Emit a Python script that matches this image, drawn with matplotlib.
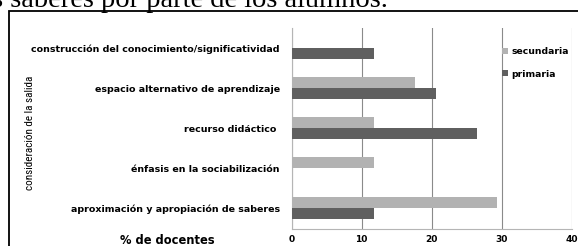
import matplotlib
matplotlib.use('Agg')
import matplotlib.pyplot as plt
from matplotlib.patches import Rectangle
import numpy as np

# datos (de abajo hacia arriba)
categorias = ['aproximación y apropiación de saberes',
              'énfasis en la sociabilización',
              'recurso didáctico ',
              'espacio alternativo de aprendizaje',
              'construcción del conocimiento/significatividad']
secundaria = [29.4, 11.8, 11.8, 17.6, 0]
primaria = [11.8, 0, 26.5, 20.6, 11.8]
ticks_x = [0, 10, 20, 30, 40]

W, H = 578, 246
fig = plt.figure(figsize=(W / 100, H / 100), dpi=100)
fig.patch.set_facecolor('white')

# texto del documento cortado arriba
fig.text(388 / W, 1 - 7 / H, 'de los saberes por parte de los alumnos.',
         ha='right', va='baseline', fontsize=20.5, family='Liberation Serif',
         color='black')

# marco del grafico
fig.patches.append(Rectangle((8.5 / W, -0.2), 1.2, 1.2 - 11 / H,
                             transform=fig.transFigure, fill=False,
                             edgecolor='black', lw=1.3))

ax = fig.add_axes([291.5 / W, 1 - 228.5 / H, 280 / W, 200.5 / H])
y = np.arange(len(categorias))
h = 0.275
ax.barh(y + h / 2, secundaria, height=h, color='#b2b2b2', label='secundaria', zorder=3)
ax.barh(y - h / 2, primaria, height=h, color='#5f5f5f', label='primaria', zorder=3)

ax.set_xlim(0, 40)
ax.set_ylim(-0.5, 4.5)
ax.set_xticks(ticks_x)
ax.set_xticklabels([str(t) for t in ticks_x], fontsize=6.5, fontweight='bold')
ax.set_yticks(y)
ax.set_yticklabels(categorias, fontsize=6.8, fontweight='bold')
ax.tick_params(axis='both', length=0, pad=8.5)
ax.tick_params(axis='x', pad=5)
ax.grid(axis='x', color='#8a8a8a', lw=0.8, zorder=1)
for s in ['top', 'right']:
    ax.spines[s].set_visible(False)
for s in ['left', 'bottom']:
    ax.spines[s].set_color('#b5b5b5')
    ax.spines[s].set_linewidth(0.8)

ax.legend(loc='upper left', bbox_to_anchor=(0.75, 0.905), frameon=False,
          prop={'size': 6.7, 'weight': 'bold'}, handlelength=0.75, handleheight=0.55,
          handletextpad=0.3, labelspacing=1.45, borderaxespad=0, borderpad=0)

fig.text(30 / W, 1 - 133 / H, 'consideración de la salida', rotation=90,
         ha='center', va='center', fontsize=8,
         family=['Roboto Condensed', 'Liberation Sans Narrow', 'Roboto'])
fig.text(167 / W, 1 - 240 / H, '% de docentes', ha='center', va='center',
         fontsize=8.3, fontweight='bold')

fig.savefig('out.png', dpi=100)
